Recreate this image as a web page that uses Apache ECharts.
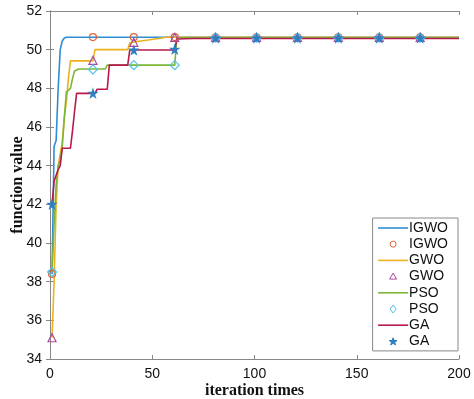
<!DOCTYPE html>
<html>
<head>
<meta charset="utf-8">
<script src="https://cdn.jsdelivr.net/npm/echarts@6/dist/echarts.min.js"></script>
<style>
  html, body { margin: 0; padding: 0; background: #fff; }
  #main { width: 474px; height: 399px; }
</style>
</head>
<body>
<div id="main"></div>
<script>
// 迭代曲线数据 (iteration, value)
const igwoIter = [1, 2, 3, 4, 5, 6, 7, 8, 200];
const igwoVal  = [38.4, 45.0, 45.3, 48.0, 50.0, 50.45, 50.6, 50.64, 50.64];

const gwoIter = [1, 2, 3, 4, 5, 6, 7, 8, 9, 10, 21, 22, 38, 39, 41, 48, 57, 200];
const gwoVal  = [35.1, 38.0, 42.0, 44.0, 44.6, 45.2, 46.5, 47.3, 48.5, 49.42, 49.42, 50.0, 50.0, 50.35, 50.4, 50.5, 50.64, 50.64];

const psoIter = [1, 2, 3, 4, 5, 6, 7, 8, 10, 11, 12, 14, 27, 28, 61, 62, 200];
const psoVal  = [38.5, 41.0, 43.0, 44.0, 44.3, 45.0, 46.5, 47.8, 48.0, 48.5, 48.9, 49.0, 49.0, 49.2, 49.2, 50.62, 50.62];

const gaIter = [1, 2, 3, 4, 5, 6, 10, 11, 12, 13, 22, 23, 28, 29, 38, 39, 61, 62, 70, 200];
const gaVal  = [42.0, 43.2, 43.5, 43.8, 44.0, 44.9, 44.9, 45.8, 46.8, 47.74, 47.74, 47.95, 47.95, 49.2, 49.2, 49.98, 49.98, 50.55, 50.58, 50.58];

// 标记点 (每20次迭代)
const markerIters = [1, 21, 41, 61, 81, 101, 121, 141, 161, 181];
const igwoMarks = [38.4, 50.65, 50.65, 50.65, 50.64, 50.64, 50.64, 50.64, 50.64, 50.64];
const gwoMarks  = [35.1, 49.45, 50.38, 50.64, 50.64, 50.64, 50.64, 50.64, 50.64, 50.64];
const psoMarks  = [38.5, 48.98, 49.2, 49.2, 50.62, 50.62, 50.62, 50.62, 50.62, 50.62];
const gaMarks   = [42.0, 47.74, 49.98, 50.02, 50.6, 50.6, 50.6, 50.6, 50.6, 50.6];

const xTicks = [0, 50, 100, 150, 200];
const yTicks = [34, 36, 38, 40, 42, 44, 46, 48, 50, 52];

const starPath = 'path://M50,0 L61,35 L98,35 L68,57 L79,91 L50,70 L21,91 L32,57 L2,35 L39,35 Z';

// 图例用的小图标 (外加 moveTo 撑开边界)
const legendIcons = {
  line: 'path://M0 0 M30 14 M0 6.2 L30 6.2 L30 7.8 L0 7.8 Z',
  circle: 'path://M0 0 M30 14 M15 4 A3 3 0 1 1 15 10 A3 3 0 1 1 15 4 Z',
  triangle: 'path://M0 0 M30 14 M15 3.5 L18.5 9.5 L11.5 9.5 Z',
  diamond: 'path://M0 0 M30 14 M15 3 L18 7 L15 11 L12 7 Z',
  star: 'path://M0 0 M30 14 M15 3.4 L16 6.1 L18.9 6.1 L16.6 7.8 L17.4 10.5 L15 8.9 L12.6 10.5 L13.4 7.8 L11.1 6.1 L14 6.1 Z'
};

const algos = [
  { name: 'IGWO', iter: igwoIter, val: igwoVal, marks: igwoMarks, lineColor: '#2F8ED2', markColor: '#DE6236', symbol: 'circle', size: 7, icon: legendIcons.circle },
  { name: 'GWO', iter: gwoIter, val: gwoVal, marks: gwoMarks, lineColor: '#EDB120', markColor: '#A8489C', symbol: 'triangle', size: 8, icon: legendIcons.triangle },
  { name: 'PSO', iter: psoIter, val: psoVal, marks: psoMarks, lineColor: '#7BB636', markColor: '#55C1EC', symbol: 'diamond', size: 9, icon: legendIcons.diamond },
  { name: 'GA', iter: gaIter, val: gaVal, marks: gaMarks, lineColor: '#B8194C', markColor: '#2E7FC2', symbol: starPath, size: 8, icon: legendIcons.star, filled: true }
];

function pairs(xs, ys) {
  return xs.map((x, i) => [x, ys[i]]);
}

function buildSeries() {
  const series = [];
  algos.forEach(a => {
    series.push({
      name: a.name + '-line',
      type: 'line',
      data: pairs(a.iter, a.val),
      symbol: 'none',
      lineStyle: { color: a.lineColor, width: 1.6 },
      itemStyle: { color: a.lineColor },
      animation: false
    });
    series.push({
      name: a.name + '-mark',
      type: 'scatter',
      data: pairs(markerIters, a.marks),
      symbol: a.symbol,
      symbolSize: a.size,
      itemStyle: {
        color: a.filled ? a.markColor : 'rgba(255,255,255,0)',
        borderColor: a.markColor,
        borderWidth: 1.2,
        opacity: 1
      },
      z: 3,
      animation: false
    });
  });
  return series;
}

function buildLegendData() {
  const data = [];
  algos.forEach(a => {
    data.push({
      name: a.name + '-line',
      icon: legendIcons.line,
      itemStyle: { color: a.lineColor, borderWidth: 0 }
    });
    data.push({
      name: a.name + '-mark',
      icon: a.icon,
      itemStyle: {
        color: a.filled ? a.markColor : 'rgba(255,255,255,0)',
        borderColor: a.markColor,
        borderWidth: 1
      }
    });
  });
  return data;
}

function axisBase(show) {
  return {
    axisLine: { show: true, lineStyle: { color: '#888', width: 1 } },
    axisTick: { show: true, inside: true, length: 4, lineStyle: { color: '#888' } },
    axisLabel: { show: show, color: '#111', fontSize: 14, fontFamily: 'Liberation Sans, Arial, sans-serif' },
    splitLine: { show: false }
  };
}

function initChart() {
  const chart = echarts.init(document.getElementById('main'), null, { renderer: 'canvas' });
  const option = {
    backgroundColor: '#fff',
    animation: false,
    grid: { left: 50, right: 15, top: 11, bottom: 40, containLabel: false, outerBoundsMode: 'none' },
    xAxis: [
      Object.assign(axisBase(true), {
        type: 'value', min: xTicks[0], max: xTicks[xTicks.length - 1], interval: 50,
        name: 'iteration times', nameLocation: 'middle', nameGap: 24, nameMoveOverlap: false,
        nameTextStyle: { fontFamily: 'Liberation Serif, Times New Roman, serif', fontWeight: 'bold', fontSize: 16, color: '#111' }
      }),
      Object.assign(axisBase(false), {
        type: 'value', position: 'top', min: xTicks[0], max: xTicks[xTicks.length - 1], interval: 50
      })
    ],
    yAxis: [
      Object.assign(axisBase(true), {
        type: 'value', min: yTicks[0], max: yTicks[yTicks.length - 1], interval: 2,
        name: 'function value', nameLocation: 'middle', nameGap: 24, nameMoveOverlap: false,
        nameTextStyle: { fontFamily: 'Liberation Serif, Times New Roman, serif', fontWeight: 'bold', fontSize: 16, color: '#111' }
      }),
      Object.assign(axisBase(false), {
        type: 'value', position: 'right', min: yTicks[0], max: yTicks[yTicks.length - 1], interval: 2
      })
    ],
    legend: {
      orient: 'vertical',
      right: 16,
      top: 218,
      align: 'left',
      padding: [3, 10, 2, 5],
      itemWidth: 30,
      itemHeight: 14,
      itemGap: 1.7,
      backgroundColor: '#fff',
      borderColor: '#888',
      borderWidth: 1,
      selectedMode: false,
      formatter: name => name.split('-')[0],
      textStyle: { fontSize: 14, color: '#111', fontFamily: 'Liberation Sans, Arial, sans-serif', padding: [0, 0, 0, -4] },
      data: buildLegendData()
    },
    series: buildSeries()
  };
  chart.setOption(option);
}

initChart();
</script>
</body>
</html>
